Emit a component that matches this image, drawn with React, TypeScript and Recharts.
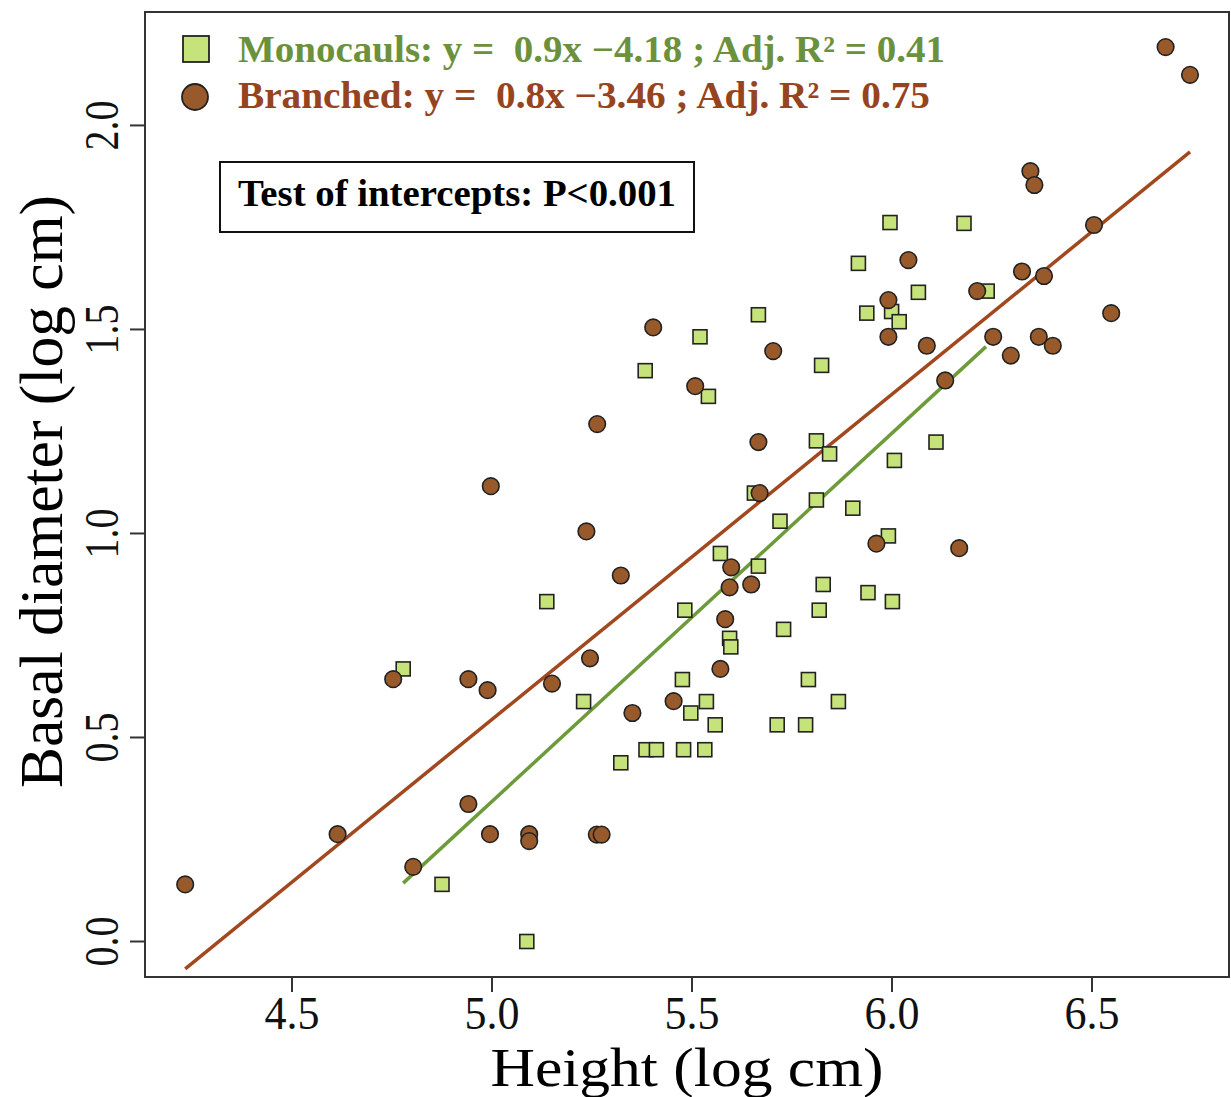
import { ScatterChart, Scatter, XAxis, YAxis, ReferenceArea, ReferenceLine, Customized } from 'recharts';

// Monocauls (squares): log height, log basal diameter
const monoHeight = [
    4.778, 4.875, 5.087, 5.137, 5.229, 5.322, 5.383, 5.385, 5.411, 5.476,
    5.479, 5.482, 5.497, 5.52, 5.532, 5.536, 5.541, 5.558, 5.571, 5.594,
    5.597, 5.656, 5.666, 5.666, 5.713, 5.72, 5.729, 5.784, 5.791, 5.811,
    5.811, 5.818, 5.824, 5.828, 5.844, 5.866, 5.902, 5.916, 5.937, 5.94,
    5.991, 5.995, 5.999, 6.001, 6.006, 6.018, 6.066, 6.11, 6.18, 6.238,
];
const monoDiameter = [
    0.668, 0.14, 0.0, 0.833, 0.588, 0.438, 1.399, 0.47, 0.47, 0.642,
    0.47, 0.812, 0.56, 1.482, 0.47, 0.588, 1.336, 0.531, 0.951, 0.743,
    0.722, 1.099, 0.92, 1.536, 0.531, 1.03, 0.765, 0.531, 0.642, 1.227,
    1.082, 0.812, 1.412, 0.875, 1.195, 0.588, 1.062, 1.662, 1.54, 0.855,
    0.994, 1.762, 1.544, 0.833, 1.179, 1.519, 1.591, 1.224, 1.76, 1.594,
];

// Branched (circles)
const branchHeight = [
    4.233, 4.614, 4.753, 4.803, 4.941, 4.941, 4.989, 4.997, 4.995, 5.093,
    5.093, 5.15, 5.236, 5.245, 5.262, 5.274, 5.263, 5.322, 5.351, 5.403,
    5.454, 5.508, 5.571, 5.583, 5.594, 5.598, 5.648, 5.666, 5.669, 5.703,
    5.961, 5.991, 5.991, 6.041, 6.087, 6.133, 6.168, 6.213, 6.253, 6.297,
    6.325, 6.346, 6.356, 6.367, 6.38, 6.402, 6.505, 6.548, 6.684, 6.745,
];
const branchDiameter = [
    0.14, 0.263, 0.643, 0.183, 0.643, 0.337, 0.616, 1.116, 0.263, 0.263,
    0.246, 0.632, 1.005, 0.694, 0.262, 0.262, 1.268, 0.897, 0.56, 1.505,
    0.589, 1.361, 0.668, 0.79, 0.868, 0.917, 0.875, 1.224, 1.099, 1.447,
    0.975, 1.572, 1.482, 1.67, 1.46, 1.375, 0.964, 1.594, 1.482, 1.436,
    1.642, 1.888, 1.854, 1.482, 1.631, 1.46, 1.756, 1.54, 2.192, 2.124,
];

// fitted lines, end points
const monoFitX = [4.778, 6.235];
const monoFitY = [0.143, 1.458];
const branchFitX = [4.233, 6.745];
const branchFitY = [-0.067, 1.935];

const xTicks = [4.5, 5.0, 5.5, 6.0, 6.5];
const yTicks = [0.0, 0.5, 1.0, 1.5, 2.0];
const xDomain = [4.1325, 6.8425];
const yDomain = [-0.087, 2.278];

const monoLegend = 'Monocauls: y =  0.9x \u22124.18 ; Adj. R\u00b2 = 0.41';
const branchLegend = 'Branched: y =  0.8x \u22123.46 ; Adj. R\u00b2 = 0.75';
const testLabel = 'Test of intercepts: P<0.001';

const SERIF = '"Liberation Serif", "Times New Roman", serif';
const GREEN_FILL = '#c6e27a';
const BROWN_FILL = '#985a2a';
const GREEN_TEXT = '#6c913c';
const BROWN_TEXT = '#96441f';
const GREEN_LINE = '#6d9b3a';
const BROWN_LINE = '#a2481f';

const monoData = monoHeight.map((x, i) => ({ x, y: monoDiameter[i] }));
const branchData = branchHeight.map((x, i) => ({ x, y: branchDiameter[i] }));

function SquareDot(props: any) {
    const { cx, cy } = props;
    return <rect x={cx - 7} y={cy - 7} width={14} height={14} fill={GREEN_FILL} stroke="#222" strokeWidth={1.6} />;
}

function CircleDot(props: any) {
    const { cx, cy } = props;
    return <circle cx={cx} cy={cy} r={8.3} fill={BROWN_FILL} stroke="#222" strokeWidth={1.6} />;
}

function XTick(props: any) {
    const { x, y, payload } = props;
    return (
        <text x={x} y={y + 37} textAnchor="middle" fontFamily={SERIF} fontSize={47} fill="#111" textLength={55} lengthAdjust="spacingAndGlyphs">
            {Number(payload.value).toFixed(1)}
        </text>
    );
}

function YTick(props: any) {
    const { x, y, payload } = props;
    return (
        <text transform={`translate(${x - 12}, ${y}) rotate(-90)`} textAnchor="middle" fontFamily={SERIF} fontSize={48} fill="#111" textLength={50} lengthAdjust="spacingAndGlyphs">
            {Number(payload.value).toFixed(1)}
        </text>
    );
}

function Annotations() {
    return (
        <g fontFamily={SERIF} fontWeight="bold">
            <rect x={183} y={36} width={26} height={26} fill={GREEN_FILL} stroke="#222" strokeWidth={1.8} />
            <text x={238} y={62} fontSize={37} fill={GREEN_TEXT} xmlSpace="preserve" textLength={707} lengthAdjust="spacingAndGlyphs">{monoLegend}</text>
            <circle cx={195} cy={97} r={13} fill={BROWN_FILL} stroke="#222" strokeWidth={1.8} />
            <text x={238} y={108} fontSize={37} fill={BROWN_TEXT} xmlSpace="preserve" textLength={692} lengthAdjust="spacingAndGlyphs">{branchLegend}</text>
            <rect x={220} y={162} width={474} height={70} fill="#fff" stroke="#111" strokeWidth={2} />
            <text x={238} y={206} fontSize={37} fill="#000" textLength={438} lengthAdjust="spacingAndGlyphs">{testLabel}</text>
        </g>
    );
}

export default function App() {
    return (
        <div style={{ position: 'absolute', left: 0, top: 0, background: '#fff' }}>
            <ScatterChart width={1231} height={1097} margin={{ top: 12, right: 2, bottom: 0, left: 0 }} style={{ overflow: 'visible' }}>
                <XAxis
                    type="number"
                    dataKey="x"
                    domain={xDomain}
                    ticks={xTicks}
                    interval={0}
                    allowDataOverflow
                    height={120}
                    tickSize={15}
                    tickMargin={0}
                    stroke="#333"
                    strokeWidth={2}
                    tick={<XTick />}
                    label={{
                        content: (p: any) => (
                            <text x={p.viewBox.x + p.viewBox.width / 2} y={p.viewBox.y + 109} textAnchor="middle" fontFamily={SERIF} fontSize={54} fill="#000" textLength={393} lengthAdjust="spacingAndGlyphs">
                                Height (log cm)
                            </text>
                        ),
                    }}
                />
                <YAxis
                    type="number"
                    dataKey="y"
                    domain={yDomain}
                    ticks={yTicks}
                    interval={0}
                    allowDataOverflow
                    width={145}
                    tickSize={15}
                    tickMargin={0}
                    stroke="#333"
                    strokeWidth={2}
                    tick={<YTick />}
                    label={{
                        content: (p: any) => (
                            <text transform={`translate(62, ${p.viewBox.y + p.viewBox.height / 2 - 3}) rotate(-90)`} textAnchor="middle" fontFamily={SERIF} fontSize={62} fill="#000" textLength={593} lengthAdjust="spacingAndGlyphs">
                                Basal diameter (log cm)
                            </text>
                        ),
                    }}
                />
                <ReferenceArea x1={xDomain[0]} x2={xDomain[1]} y1={yDomain[0]} y2={yDomain[1]} fill="none" stroke="#333" strokeWidth={2} ifOverflow="visible" />
                <Scatter name="Monocauls" data={monoData} shape={SquareDot} isAnimationActive={false} />
                <Scatter name="Branched" data={branchData} shape={CircleDot} isAnimationActive={false} />
                <ReferenceLine
                    segment={[{ x: branchFitX[0], y: branchFitY[0] }, { x: branchFitX[1], y: branchFitY[1] }]}
                    stroke={BROWN_LINE}
                    strokeWidth={3.5}
                    ifOverflow="visible"
                />
                <ReferenceLine
                    segment={[{ x: monoFitX[0], y: monoFitY[0] }, { x: monoFitX[1], y: monoFitY[1] }]}
                    stroke={GREEN_LINE}
                    strokeWidth={3.5}
                    ifOverflow="visible"
                />
                <Customized component={Annotations} />
            </ScatterChart>
        </div>
    );
}
